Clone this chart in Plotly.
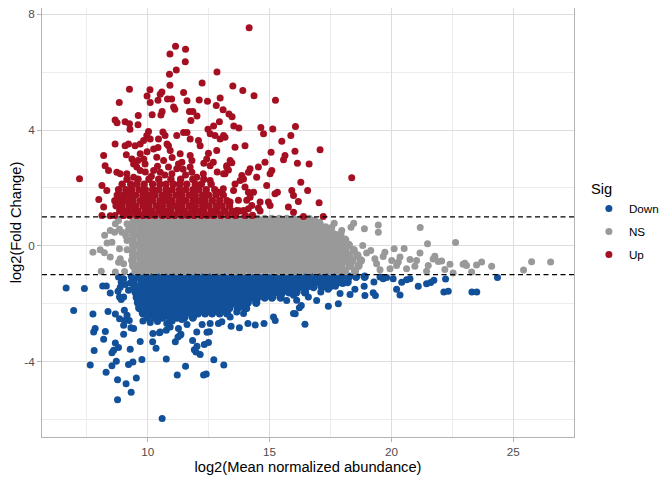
import plotly.graph_objects as go

# ---------------- data ----------------
# scattered "Up" points (x = log2 mean abundance, y = log2 fold change)
up_pts = [
    (14.16, 7.54), (11.14, 6.90), (10.91, 6.63), (11.55, 6.79), (11.54, 6.36), (11.17, 6.08),
    (10.89, 5.93), (12.84, 6.01), (10.91, 5.55), (12.23, 5.63), (13.49, 5.52), (13.90, 5.37),
    (14.36, 5.19), (15.24, 5.03), (9.25, 5.41), (8.83, 4.95), (10.09, 5.39), (9.97, 5.18),
    (10.10, 4.95), (10.58, 5.32), (10.51, 5.24), (10.42, 5.03), (10.81, 5.07), (10.98, 5.07),
    (11.47, 5.30), (11.61, 5.01), (12.11, 5.04), (12.45, 5.00), (12.97, 5.11), (12.81, 4.85),
    (13.09, 4.70), (13.33, 4.56), (13.46, 4.46), (11.06, 4.80), (11.11, 4.72), (10.59, 4.64),
    (10.54, 4.52), (10.18, 4.53), (9.61, 4.50), (8.66, 4.35), (8.74, 4.25), (9.07, 4.29),
    (9.25, 4.22), (9.27, 4.03), (11.71, 4.64), (11.85, 4.64), (12.02, 4.49), (11.77, 4.33),
    (12.47, 4.03), (12.70, 4.14), (12.94, 4.29), (13.53, 4.14), (13.74, 4.07), (14.64, 4.09),
    (15.13, 4.04), (16.06, 4.12), (9.60, 4.18),
    (8.66, 3.52), (9.07, 3.46), (9.21, 3.52), (8.19, 3.12), (8.25, 2.77), (8.39, 2.60),
    (8.73, 2.54), (8.87, 2.49), (9.35, 3.00), (9.42, 2.83), (9.48, 3.46), (9.69, 3.52),
    (9.83, 3.64), (9.96, 3.81), (10.10, 3.69), (10.24, 3.35), (10.37, 3.06), (9.69, 3.18),
    (9.83, 3.00), (9.89, 2.83), (9.55, 2.72), (9.69, 2.60), (10.44, 3.69), (10.85, 3.46),
    (10.92, 3.29), (10.71, 3.81), (11.19, 3.81), (11.47, 3.92), (11.74, 3.69), (12.08, 3.64),
    (12.15, 3.46), (11.33, 3.18), (11.40, 2.89), (11.26, 2.83), (11.19, 2.66), (11.74, 3.12),
    (11.81, 2.95), (11.74, 2.72), (12.49, 3.20), (12.42, 3.00), (12.83, 3.29), (12.56, 2.77),
    (12.69, 2.89), (13.24, 2.77), (13.17, 2.49), (12.76, 3.81), (12.56, 3.87), (12.97, 3.69),
    (10.85, 2.72), (10.99, 2.49), (10.51, 2.54), (10.24, 2.60), (9.14, 2.49), (9.42, 2.37),
    (11.81, 2.54), (12.01, 2.37), (12.28, 2.49), (12.56, 2.26), (12.90, 1.85), (13.10, 1.97),
    (11.33, 2.14), (8.12, 2.08), (8.32, 1.91), (8.19, 1.34), (8.12, 1.05), (7.20, 2.32),
    (7.99, 1.60), (8.46, 1.04), (8.65, 1.05),
    (9.97, 3.25), (10.42, 3.40), (10.79, 3.52), (10.03, 3.95), (10.62, 3.93), (11.61, 3.92),
    (9.12, 3.15), (9.9, 2.55), (10.4, 2.75), (10.65, 2.95), (11.0, 3.05), (11.55, 2.45),
    (12.3, 2.85), (12.85, 2.55), (9.6, 2.95), (10.15, 2.4), (10.7, 2.45), (11.45, 2.65),
    (13.11, 3.81), (13.17, 3.75), (13.58, 3.41), (13.99, 3.46), (14.75, 3.87), (15.50, 3.61),
    (15.87, 3.81), (15.06, 3.23), (15.63, 3.12), (15.57, 2.97), (16.04, 3.27), (16.14, 2.85),
    (16.62, 2.83), (17.07, 3.32), (14.81, 2.89), (14.54, 2.72), (14.20, 2.66), (14.13, 2.54),
    (13.38, 2.95), (13.45, 2.87), (13.24, 2.72), (13.31, 2.62), (13.11, 2.49), (13.86, 2.43),
    (13.93, 2.31), (13.79, 2.26), (13.58, 2.14), (13.99, 2.03), (13.52, 1.91), (14.47, 2.37),
    (15.09, 2.60), (15.02, 2.49), (14.88, 2.08), (15.22, 1.80), (15.32, 1.85), (15.91, 1.91),
    (15.98, 1.74), (16.28, 2.20), (16.56, 1.91), (16.18, 1.53), (17.03, 1.49), (18.37, 2.35),
    (14.34, 1.85), (14.13, 1.85), (14.20, 1.68), (13.72, 1.57), (14.06, 1.57), (14.27, 1.39),
    (13.38, 1.51), (14.61, 1.51), (14.95, 1.51), (15.02, 1.39), (15.77, 1.34), (15.98, 1.16),
    (16.39, 1.01), (17.20, 1.01), (14.13, 1.28), (13.65, 1.22), (13.93, 1.22), (14.54, 1.31),
    (14.61, 1.20),
]
# densely packed "Up" band, read row by row: (fold change, [abundances])
up_rows = [
    (2.30, [9.15, 9.6, 10.05, 10.45, 10.95, 11.35, 11.85, 12.3]),
    (2.13, [8.95, 9.3, 9.55, 9.85, 10.2, 10.5, 10.75, 11.05, 11.3, 11.6, 11.95, 12.2, 12.6]),
    (1.94, [8.8, 9.1, 9.35, 9.65, 9.9, 10.2, 10.45, 10.75, 11.0, 11.3, 11.55, 11.85, 12.1, 12.4, 12.75]),
    (1.75, [8.75, 9.0, 9.25, 9.5, 9.8, 10.05, 10.3, 10.6, 10.85, 11.15, 11.4, 11.7, 11.95, 12.25, 12.5, 12.8, 13.1]),
    (1.56, [8.65, 8.9, 9.15, 9.4, 9.7, 9.95, 10.2, 10.5, 10.75, 11.0, 11.3, 11.55, 11.85, 12.1, 12.35, 12.65, 12.95, 13.25]),
    (1.38, [8.7, 8.95, 9.25, 9.5, 9.8, 10.05, 10.35, 10.6, 10.9, 11.15, 11.4, 11.7, 11.95, 12.25, 12.5, 12.8, 13.05, 13.35]),
    (1.20, [8.85, 9.1, 9.35, 9.6, 9.9, 10.15, 10.45, 10.7, 10.95, 11.25, 11.5, 11.8, 12.05, 12.3, 12.6, 12.85, 13.15, 13.45, 13.75]),
    (1.05, [9.0, 9.25, 9.55, 9.8, 10.05, 10.3, 10.6, 10.85, 11.1, 11.4, 11.65, 11.9, 12.2, 12.45, 12.7, 13.0, 13.3, 13.6, 14.0, 14.3]),
]

ns_pts = [
    (8.23, 0.36), (8.33, 0.10), (8.53, 0.12), (8.46, 0.53), (8.64, 0.47), (8.94, 0.47),
    (8.84, 0.57), (7.75, -0.22), (8.05, -0.14), (8.22, -0.24), (8.46, -0.39), (8.84, -0.10),
    (9.15, -0.14), (8.87, -0.45), (8.80, -0.57), (9.01, -0.62), (9.05, -0.89), (8.09, -0.88),
    (8.67, -0.91), (9.15, 0.18), (8.67, 0.76), (8.80, 0.87), (9.15, 0.76), (9.20, 0.55),
    (9.10, 0.35),
    (16.85, 0.88), (17.05, 0.81), (17.3, 0.66), (17.55, 0.64), (17.65, 0.78), (17.96, 0.53),
    (18.45, 0.78), (18.34, 0.64), (19.46, 0.72), (19.46, 0.47), (21.18, 0.63), (18.89, 0.59),
    (21.48, 0.07), (22.63, 0.11), (20.52, -0.09), (20.11, -0.10), (19.73, -0.22), (19.66, -0.37),
    (19.15, -0.16), (18.98, -0.25), (18.82, 0.01), (21.17, -0.25), (21.78, -0.36), (21.71, -0.46),
    (21.92, -0.54), (22.06, -0.53), (20.76, -0.47), (21.03, -0.51), (20.96, -0.71), (21.51, -0.68),
    (21.44, -0.88), (22.40, -0.64), (22.53, -0.94), (23.01, -0.60), (23.08, -0.68), (22.94, -0.64),
    (23.49, -0.66), (23.70, -0.56), (24.11, -0.71), (23.29, -0.91), (25.75, -0.55), (26.53, -0.56),
    (25.42, -0.84), (22.19, -0.82), (20.62, -0.79), (20.21, -0.68), (20.28, -0.56), (20.35, -0.39),
    (20.01, -0.51), (19.32, -0.45), (19.39, -0.62), (19.53, -0.83), (19.94, -0.79),
]
ns_rows = [
    (0.93, [9.42, 9.72, 10.0, 10.31, 10.6, 10.9, 11.2, 11.48, 11.79, 12.1, 12.38, 12.7, 12.98, 13.29,
            13.58, 13.9, 14.18, 14.5, 14.8, 15.08, 15.4, 15.7, 15.98, 16.3, 16.62]),
    (0.75, [9.36, 9.57, 9.86, 10.15, 10.45, 10.74, 11.05, 11.34, 11.63, 11.94, 12.23, 12.54, 12.83, 13.13,
            13.44, 13.73, 14.03, 14.34, 14.63, 14.93, 15.24, 15.53, 15.84, 16.13, 16.44, 16.75, 17.05]),
    (0.57, [9.38, 9.7, 10.0, 10.3, 10.59, 10.9, 11.19, 11.5, 11.8, 12.09, 12.4, 12.69, 13.0, 13.3, 13.59,
            13.9, 14.2, 14.49, 14.8, 15.09, 15.4, 15.7, 15.99, 16.3, 16.6, 16.9, 17.2, 17.5]),
    (0.39, [9.4, 9.55, 9.85, 10.14, 10.45, 10.75, 11.04, 11.35, 11.65, 11.94, 12.25, 12.55, 12.84, 13.15,
            13.45, 13.74, 14.05, 14.35, 14.64, 14.95, 15.25, 15.54, 15.85, 16.15, 16.44, 16.75, 17.05,
            17.34, 17.65, 17.9]),
    (0.21, [9.36, 9.7, 10.0, 10.29, 10.6, 10.9, 11.19, 11.5, 11.8, 12.1, 12.4, 12.7, 13.0, 13.3, 13.6,
            13.9, 14.2, 14.5, 14.8, 15.1, 15.4, 15.7, 16.0, 16.3, 16.6, 16.9, 17.2, 17.5, 17.8, 18.1]),
    (0.03, [9.4, 9.55, 9.85, 10.15, 10.45, 10.75, 11.05, 11.35, 11.65, 11.95, 12.25, 12.55, 12.85, 13.15,
            13.45, 13.75, 14.05, 14.35, 14.65, 14.95, 15.25, 15.55, 15.85, 16.15, 16.45, 16.75, 17.05,
            17.35, 17.65, 17.95, 18.25]),
    (-0.15, [9.36, 9.7, 10.0, 10.3, 10.6, 10.9, 11.2, 11.5, 11.8, 12.1, 12.4, 12.7, 13.0, 13.3, 13.6,
             13.9, 14.2, 14.5, 14.8, 15.1, 15.4, 15.7, 16.0, 16.3, 16.6, 16.9, 17.2, 17.5, 17.8, 18.1, 18.45]),
    (-0.33, [9.4, 9.55, 9.85, 10.15, 10.45, 10.75, 11.05, 11.35, 11.65, 11.95, 12.25, 12.55, 12.85, 13.15,
             13.45, 13.75, 14.05, 14.35, 14.65, 14.95, 15.25, 15.55, 15.85, 16.15, 16.45, 16.75, 17.05,
             17.35, 17.65, 17.95, 18.25, 18.6]),
    (-0.51, [9.36, 9.7, 10.0, 10.3, 10.6, 10.9, 11.2, 11.5, 11.8, 12.1, 12.4, 12.7, 13.0, 13.3, 13.6,
             13.9, 14.2, 14.5, 14.8, 15.1, 15.4, 15.7, 16.0, 16.3, 16.6, 16.9, 17.2, 17.5, 17.8, 18.1,
             18.4, 18.75]),
    (-0.69, [9.4, 9.55, 9.85, 10.15, 10.45, 10.75, 11.05, 11.35, 11.65, 11.95, 12.25, 12.55, 12.85, 13.15,
             13.45, 13.75, 14.05, 14.35, 14.65, 14.95, 15.25, 15.55, 15.85, 16.15, 16.45, 16.75, 17.05,
             17.35, 17.65, 17.95, 18.3, 18.65]),
    (-0.87, [9.5, 9.7, 10.0, 10.3, 10.6, 10.9, 11.2, 11.5, 11.8, 12.1, 12.4, 12.7, 13.0, 13.3, 13.6, 13.9,
             14.2, 14.5, 14.8, 15.1, 15.4, 15.7, 16.0, 16.3, 16.6, 16.9, 17.2, 17.5, 17.8, 18.1, 18.5]),
]

down_pts = [
    (6.65, -1.46), (7.40, -1.48), (6.96, -2.24), (7.75, -2.36), (8.15, -1.39), (8.30, -1.39),
    (8.46, -1.63), (8.37, -2.27), (8.67, -2.36), (8.78, -1.57), (8.84, -1.77), (8.91, -1.86),
    (9.04, -2.23), (9.15, -2.40), (9.24, -2.58), (9.01, -2.75), (8.84, -2.52), (7.84, -2.86),
    (7.78, -2.98), (8.26, -2.96), (8.19, -3.23), (8.67, -3.36), (8.60, -3.61), (8.53, -3.70),
    (8.80, -3.52), (7.80, -3.62), (7.64, -4.12), (8.29, -4.37), (8.53, -4.15), (8.71, -3.99),
    (8.76, -4.63), (9.11, -4.77), (8.76, -5.32), (9.32, -5.06), (9.53, -4.57), (9.21, -4.10),
    (9.39, -4.02), (9.28, -3.58), (9.69, -3.31), (9.76, -3.93), (9.01, -3.06), (9.31, -2.83),
    (9.42, -2.86), (9.05, -2.58), (10.34, -3.54), (10.20, -3.32), (10.76, -3.91), (10.59, -5.97),
    (11.21, -4.47), (11.55, -4.16), (12.29, -4.47), (12.40, -4.43), (12.71, -3.94), (13.12, -4.12),
    (11.91, -3.59), (12.02, -3.47), (11.98, -3.67), (12.15, -3.76), (12.32, -3.41), (12.49, -3.34),
    (11.84, -3.27), (11.13, -3.32), (11.24, -3.15), (11.36, -3.06), (10.48, -3.01), (10.21, -3.03),
    (10.76, -2.92), (10.92, -2.81), (11.61, -2.72), (12.23, -2.72), (12.43, -2.99), (12.53, -2.97),
    (13.42, -2.78), (13.76, -2.83), (14.11, -2.69), (14.41, -2.74), (14.77, -2.69), (15.23, -2.58),
    (16.45, -2.71), (16.05, -2.35), (17.41, -2.09), (16.22, -2.14), (15.70, -1.89), (16.59, -1.77),
    (16.93, -1.89), (8.91, -1.26), (9.07, -1.34), (9.28, -1.29), (9.21, -1.54), (9.01, -1.77),
    (8.87, -1.43), (8.80, -1.08), (9.01, -1.14),
    (10.51, -2.98), (10.78, -2.69), (11.26, -2.86), (11.33, -3.09), (12.01, -2.98), (12.56, -2.69),
    (12.90, -2.69), (13.04, -2.63), (13.38, -2.46), (13.65, -2.29), (14.06, -2.17), (10.1, -2.65),
    (10.4, -2.62), (11.0, -2.6), (11.4, -2.55), (9.8, -2.6),
    (13.93, -2.34), (15.16, -2.46), (15.98, -2.34), (16.3, -2.06), (15.98, -1.71), (16.11, -1.88),
    (17.82, -2.00), (17.1, -1.6), (17.4, -1.5), (17.7, -1.4), (18.0, -1.3),
    (17.89, -1.65), (18.30, -1.68), (18.50, -1.50), (18.91, -1.72), (18.88, -1.40), (19.25, -1.62),
    (19.34, -1.72), (19.28, -1.25), (19.53, -1.08), (19.66, -1.14), (19.80, -1.10), (20.07, -1.14),
    (20.21, -1.50), (20.35, -1.70), (20.42, -1.26), (20.62, -1.17), (20.76, -1.14), (21.10, -1.40),
    (21.44, -1.31), (21.61, -1.27), (21.74, -1.19), (22.15, -1.60), (22.33, -1.57), (22.22, -1.15),
    (23.30, -1.60), (23.50, -1.60), (24.35, -1.10),
]
down_rows = [
    (-1.07, [9.35, 9.62, 9.9, 10.2, 10.48, 10.78, 11.05, 11.35, 11.62, 11.92, 12.2, 12.5, 12.78, 13.08,
             13.35, 13.65, 13.92, 14.22, 14.5, 14.8, 15.08, 15.38, 15.65, 15.95, 16.22, 16.52, 16.8,
             17.1, 17.38, 17.68, 17.95, 18.25, 18.55, 18.9]),
    (-1.25, [9.42, 9.76, 10.05, 10.34, 10.63, 10.92, 11.2, 11.5, 11.78, 12.06, 12.35, 12.64, 12.93,
             13.22, 13.5, 13.8, 14.08, 14.36, 14.65, 14.94, 15.22, 15.52, 15.8, 16.08, 16.38, 16.66,
             16.95, 17.24, 17.52, 17.85, 18.2]),
    (-1.43, [9.45, 9.62, 9.9, 10.2, 10.48, 10.78, 11.05, 11.35, 11.62, 11.92, 12.2, 12.5, 12.78, 13.08,
             13.35, 13.65, 13.92, 14.22, 14.5, 14.8, 15.08, 15.38, 15.65, 15.95, 16.22, 16.52, 16.8,
             17.15, 17.45]),
    (-1.61, [9.5, 9.76, 10.05, 10.34, 10.63, 10.92, 11.2, 11.5, 11.78, 12.06, 12.35, 12.64, 12.93,
             13.22, 13.5, 13.8, 14.08, 14.36, 14.65, 14.94, 15.22, 15.52, 15.8, 16.1, 16.45]),
    (-1.79, [9.55, 9.62, 9.9, 10.2, 10.48, 10.78, 11.05, 11.35, 11.62, 11.92, 12.2, 12.5, 12.78, 13.08,
             13.35, 13.65, 13.92, 14.22, 14.5, 14.8, 15.1, 15.45]),
    (-1.97, [9.6, 9.76, 10.05, 10.34, 10.63, 10.92, 11.2, 11.5, 11.78, 12.06, 12.35, 12.64, 12.93,
             13.22, 13.5, 13.8, 14.1, 14.45]),
    (-2.15, [9.65, 9.9, 10.2, 10.48, 10.78, 11.05, 11.35, 11.62, 11.92, 12.2, 12.5, 12.78, 13.08,
             13.35, 13.7, 14.0]),
    (-2.33, [9.8, 10.05, 10.34, 10.63, 10.92, 11.2, 11.5, 11.78, 12.06, 12.35, 12.64, 12.95, 13.25]),
    (-2.48, [10.0, 10.3, 10.6, 10.9, 11.2, 11.5, 11.85]),
]

x_ticks = [10, 15, 20, 25]
x_minor = [7.5, 12.5, 17.5, 22.5]
y_ticks = [-4, 0, 4, 8]
y_tick_text = ["-4", "0", "4", "8"]
y_minor = [-6, -2, 2, 6]
cutoffs = [-1, 1]

# (label, scattered points, packed rows, colour, marker size used for the packed rows)
groups = [
    ("Down", down_pts, down_rows, "#12509A", 8.4),
    ("NS", ns_pts, ns_rows, "#999999", 8.4),
    ("Up", up_pts, up_rows, "#A50F22", 7.4),
]


def flatten_rows(rows):
    xs, ys = [], []
    for yv, row in rows:
        xs.extend(row)
        ys.extend([yv] * len(row))
    return xs, ys


fig = go.Figure()
for name, pts, rows, col, dense_size in groups:
    rx, ry = flatten_rows(rows)
    fig.add_trace(go.Scatter(
        x=rx, y=ry, mode="markers", name=name, legendgroup=name, showlegend=False,
        marker=dict(size=dense_size, color=col, line=dict(width=0)), hoverinfo="skip",
    ))
    fig.add_trace(go.Scatter(
        x=[p[0] for p in pts], y=[p[1] for p in pts], mode="markers", name=name, legendgroup=name,
        marker=dict(size=7, color=col, line=dict(width=0)), hoverinfo="skip",
    ))

for c in cutoffs:
    fig.add_shape(type="line", xref="paper", x0=0, x1=1, yref="y", y0=c, y1=c,
                  line=dict(color="black", width=1.3, dash="5px,3.5px"), layer="above")

font_family = "Liberation Sans, Arial, sans-serif"
axis_common = dict(
    showline=True, mirror=True, linecolor="#b3b3b3", linewidth=1,
    ticks="outside", ticklen=4, tickcolor="#b3b3b3", tickwidth=1,
    showgrid=True, gridcolor="#dedede", gridwidth=1, zeroline=False,
    tickfont=dict(family=font_family, size=11.7, color="#4d4d4d"),
    ticklabeloverflow="allow", automargin=False,
)

# the page body adds an 8px offset, so the figure is 8px smaller than the window
fig.update_layout(
    width=664, height=472,
    margin=dict(l=34, r=98, t=0, b=43),
    plot_bgcolor="white", paper_bgcolor="white",
    font=dict(family=font_family, color="black"),
    xaxis=dict(range=[5.66, 27.49], tickvals=x_ticks,
               minor=dict(tickvals=x_minor, showgrid=True, gridcolor="#ececec", gridwidth=0.6, ticks=""),
               title=dict(text="log2(Mean normalized abundance)", font=dict(size=14.7, color="black"), standoff=4),
               **axis_common),
    yaxis=dict(range=[-6.61, 8.22], tickvals=y_ticks, ticktext=y_tick_text,
               minor=dict(tickvals=y_minor, showgrid=True, gridcolor="#ececec", gridwidth=0.6, ticks=""),
               title=dict(text="log2(Fold Change)", font=dict(size=14.7, color="black"), standoff=4),
               **axis_common),
    legend=dict(x=1.028, xanchor="left", y=0.5, yanchor="middle",
                title=dict(text="Sig", font=dict(size=14.7, color="black")),
                font=dict(size=11.7, color="black"), tracegroupgap=4,
                bgcolor="rgba(0,0,0,0)"),
    showlegend=True,
)

fig.write_html("out.html")
